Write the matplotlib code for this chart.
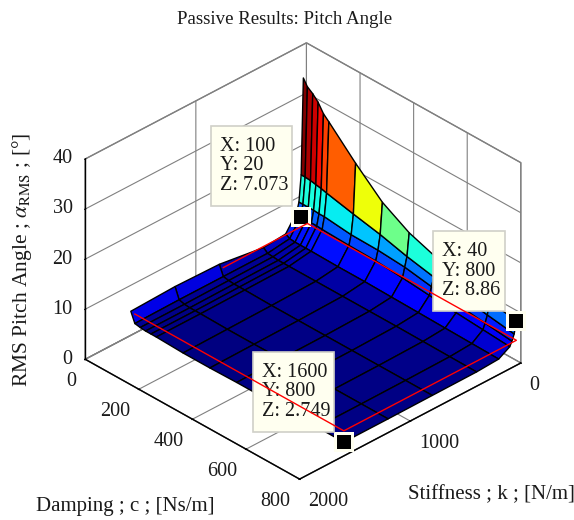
import numpy as np
import matplotlib
matplotlib.use('Agg')
import matplotlib.pyplot as plt
from matplotlib.patches import Rectangle

plt.rcParams['font.family'] = ['Liberation Serif', 'DejaVu Serif']
plt.rcParams['mathtext.fontset'] = 'stix'

stiffness = [40, 60, 80, 100, 200, 400, 800, 1200, 1600]
damping = [5, 20, 40, 60, 80, 100, 200, 300, 400, 500, 600, 700, 800]
# one row per stiffness, one column per damping
pitch_rms = [
    [33.6, 32.3, 31.5, 30.4, 28.7, 27.7, 22.4, 17.6, 14.5, 12.6, 11.0, 9.8, 8.86],
    [14.5, 14.5, 14.4, 14.2, 14.0, 13.7, 12.5, 11.4, 10.0, 8.9, 8.2, 7.3, 6.5],
    [9.3, 9.3, 9.3, 9.3, 9.2, 9.2, 8.6, 8.5, 8.1, 7.2, 6.5, 5.9, 5.3],
    [7.5, 7.073, 7.0, 7.0, 7.0, 6.9, 6.7, 6.6, 6.2, 5.7, 5.2, 4.8, 4.4],
    [4.3, 3.8, 3.7, 3.7, 3.7, 3.7, 3.6, 3.6, 3.5, 3.4, 3.3, 3.2, 3.1],
    [3.9, 3.2, 3.1, 3.0, 3.0, 3.0, 3.0, 3.0, 3.0, 3.0, 2.95, 2.9, 2.85],
    [5.2, 3.2, 3.0, 2.9, 2.9, 2.9, 2.8, 2.8, 2.8, 2.8, 2.8, 2.8, 2.8],
    [5.4, 3.2, 2.9, 2.8, 2.8, 2.8, 2.7, 2.7, 2.75, 2.75, 2.75, 2.75, 2.75],
    [5.1, 3.1, 2.9, 2.8, 2.8, 2.8, 2.6, 2.6, 2.7, 2.7, 2.7, 2.74, 2.749],
]

k_ticks = [0, 1000, 2000]
c_ticks = [0, 200, 400, 600, 800]
z_ticks = [0, 10, 20, 30, 40]

tip_k = [100, 40, 1600]
tip_c = [20, 800, 800]
tip_z = [7.073, 8.86, 2.749]
tip_text = ['X: 100\nY: 20\nZ: 7.073', 'X: 40\nY: 800\nZ: 8.86', 'X: 1600\nY: 800\nZ: 2.749']
# left, top, width, height of each data tip in pixels
tip_box = [(211, 126, 81, 80), (433, 231, 72, 80), (253, 352, 81, 80)]

limit_k = [800, 40, 40, 1600, 1600]
limit_c = [20, 20, 800, 800, 20]
limit_z = 5

W, H = 574, 520
GRID = '#808080'
CREAM = '#fffff0'
INK = '#1a1a1a'


def draw_tip(fig, ax, txt, box):
    x, y, w, h = box
    rect = Rectangle((x / W, 1 - (y + h) / H), w / W, h / H, transform=fig.transFigure,
                     fc=CREAM, ec='#d0d0c8', lw=1.2, zorder=6, clip_on=False)
    rect.do_3d_projection = lambda: 0  # Axes3D.draw asks every patch for this
    ax.add_artist(rect)
    ax.text2D((x + 9) / W, 1 - (y + h / 2) / H, txt, transform=fig.transFigure, fontsize=14.5,
              va='center', linespacing=1.05, zorder=6.5, color=INK)


def main():
    fig = plt.figure(figsize=(W / 100, H / 100), dpi=100)
    ax = fig.add_axes([9 / W, -8 / H, 1, 1], projection='3d', proj_type='ortho')
    ax.patch.set_alpha(0)
    ax.computed_zorder = False
    ax.view_init(elev=32.8, azim=45.9)
    ax.set_box_aspect((1, 1, 0.7737), zoom=0.927)
    ax.set_xlim(0, 2000)
    ax.set_ylim(0, 800)
    ax.set_zlim(0, 40)
    ax.set_xticks(k_ticks)
    ax.set_yticks(c_ticks)
    ax.set_zticks(z_ticks)
    ax.tick_params(labelsize=14.5, pad=0, labelcolor=INK)
    ax.zaxis.set_tick_params(pad=-2.3)
    plt.setp(ax.get_xticklabels(), ha='left')
    plt.setp(ax.get_yticklabels(), ha='right')
    plt.setp(ax.get_zticklabels(), ha='right', va='center')

    for axis in (ax.xaxis, ax.yaxis, ax.zaxis):
        axis.set_pane_color((1, 1, 1, 1))
        axis.pane.set_edgecolor(GRID)
        axis.line.set_color('k')
        axis.line.set_linewidth(1.0)
        axis._axinfo['grid'].update(color=GRID, linewidth=0.8, linestyle='-')
        axis._axinfo['tick']['inward_factor'] = 0.03
        axis._axinfo['tick']['outward_factor'] = 0.03

    Z = np.array(pitch_rms)
    K, C = np.meshgrid(stiffness, damping, indexing='ij')
    norm = plt.Normalize(Z.min(), Z.max())
    ax.plot_surface(K, C, Z, rstride=1, cstride=1, facecolors=plt.cm.jet(norm(Z)),
                    edgecolor='k', linewidth=1.0, shade=False, zorder=2)

    ax.scatter(tip_k, tip_c, tip_z, marker='s', s=228, c=CREAM, linewidths=0,
               depthshade=False, zorder=3)
    ax.scatter(tip_k, tip_c, tip_z, marker='s', s=100, c='k', linewidths=0,
               depthshade=False, zorder=4)

    for txt, box in zip(tip_text, tip_box):
        draw_tip(fig, ax, txt, box)

    ax.plot(limit_k, limit_c, limit_z, color='r', lw=1.0, zorder=7)

    fig.text(285 / W, 1 - 20 / H, 'Passive Results: Pitch Angle', fontsize=13.6,
             ha='center', va='center', color=INK)
    fig.text(22 / W, 1 - 260 / H, r'RMS Pitch Angle ; $\alpha_{\mathrm{RMS}}$ ; [°]', fontsize=15.5,
             rotation=90, ha='center', va='center', color=INK)
    fig.text(125 / W, 1 - 507 / H, 'Damping ; c ; [Ns/m]', fontsize=15, ha='center', va='center', color=INK)
    fig.text(491 / W, 1 - 495 / H, 'Stiffness ; k ; [N/m]', fontsize=15, ha='center', va='center', color=INK)

    fig.savefig('out.png', dpi=100)


if __name__ == '__main__':
    main()
